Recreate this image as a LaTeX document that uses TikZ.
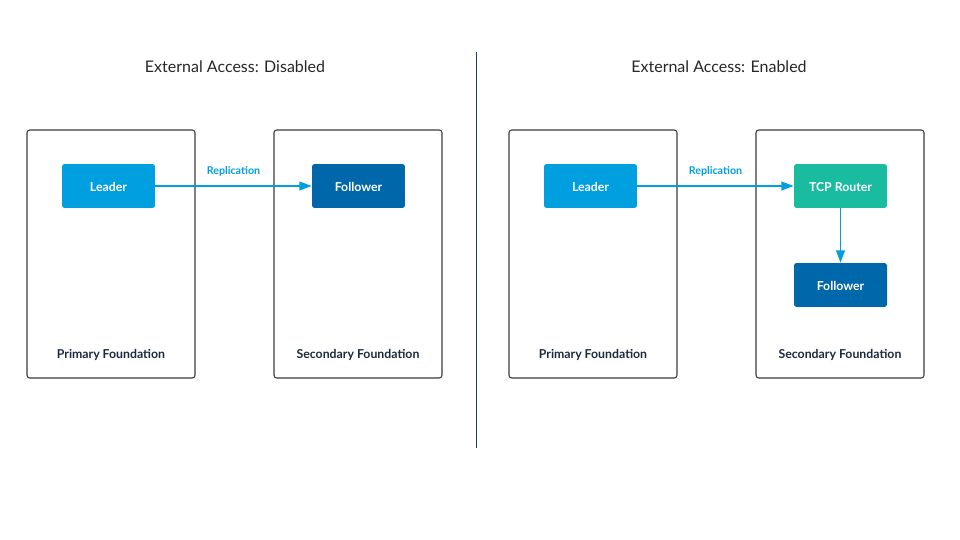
\documentclass[tikz,border=0pt]{standalone}
\usepackage{fontspec}
\setmainfont{Lato}
\usepackage{xcolor}
\usetikzlibrary{arrows.meta,positioning}

\definecolor{leaderblue}{HTML}{009FE0}
\definecolor{followerblue}{HTML}{0067AA}
\definecolor{routerteal}{HTML}{1ABC9F}
\definecolor{navytext}{HTML}{1B2A3C}
\definecolor{divnavy}{HTML}{1D3D5E}
\definecolor{boxgray}{HTML}{3A3A3A}

\begin{document}
\begin{tikzpicture}[
      x=0.02cm, y=-0.02cm,
      foundation/.style={rectangle, draw=boxgray, line width=0.6pt, rounded corners=1.5pt, minimum width=3.36cm, minimum height=4.96cm, inner sep=0pt},
      flowstep/.style={rectangle, rounded corners=1.5pt, minimum width=1.86cm, minimum height=0.88cm, text=white, font=\fontsize{7}{8}\selectfont\bfseries, inner sep=0pt, text depth=0pt, text height=1.15ex},
      leader/.style={flowstep, fill=leaderblue},
      follower/.style={flowstep, fill=followerblue},
      router/.style={flowstep, fill=routerteal},
      caption/.style={font=\fontsize{7}{8}\selectfont\bfseries, text=navytext},
      heading/.style={font=\fontsize{9.1}{11}\selectfont, text=black!85},
      arrow/.style={-{Triangle[length=7pt,width=5pt]}, line width=0.9pt, leaderblue}
    ]
      \useasboundingbox (0,0) rectangle (960,540);

      % Disabled side
      \node[heading] (titleA) at (235,67) {External Access: Disabled};
      \node[foundation] (primA) at (111,254) {};
      \node[foundation] (secA) at (358,254) {};
      \node[caption] (primAlbl) at (111,354.5) {Primary Foundation};
      \node[caption] (secAlbl) at (358,354.5) {Secondary Foundation};
      \node[leader] (leaderA) at (108.5,186) {Leader};
      \node[follower] (followerA) at (358.5,186) {Follower};

      % Divider
      \coordinate (divtop) at (476,52);
      \coordinate (divbot) at (476,448);
      \draw[divnavy, line width=0.5pt] (divtop) -- (divbot);

      % Enabled side
      \node[heading] (titleB) at (719,67) {External Access: Enabled};
      \node[foundation] (primB) at (593,254) {};
      \node[foundation] (secB) at (840,254) {};
      \node[caption] (primBlbl) at (593,354.5) {Primary Foundation};
      \node[caption] (secBlbl) at (840,354.5) {Secondary Foundation};
      \node[leader] (leaderB) at (590.5,186) {Leader};
      \node[router] (routerB) at (840.5,186) {TCP Router};
      \node[follower] (followerB) at (840.5,285) {Follower};

      % Arrows
      \draw[arrow] (leaderA) -- node[above=1.5pt, font=\fontsize{6.1}{7}\selectfont\bfseries] {Replication} (followerA);
      \draw[arrow] (leaderB) -- node[above=1.5pt, font=\fontsize{6.1}{7}\selectfont\bfseries] {Replication} (routerB);
      \draw[arrow] (routerB) -- (followerB);

    \end{tikzpicture}
\end{document}
